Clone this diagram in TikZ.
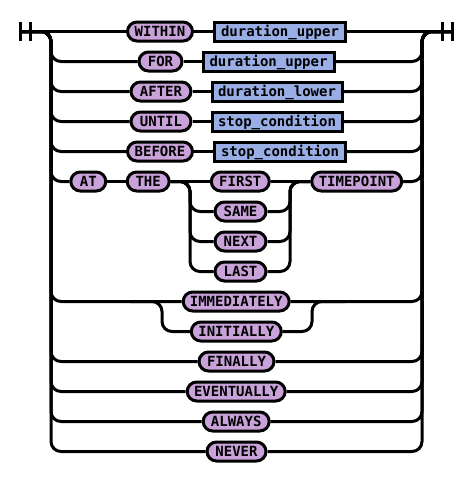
\documentclass[tikz,border=0pt]{standalone}
\usepackage{fontspec}
\newfontfamily\rrfont{DejaVu Sans Mono}
\usetikzlibrary{calc}
\definecolor{termc}{RGB}{200,162,216}
\definecolor{ntc}{RGB}{154,174,230}
\begin{document}
\begin{tikzpicture}[x=1pt,y=-1pt,
  rr/.style={line width=3pt, rounded corners=10pt},
  bar/.style={line width=3pt},
  boxbase/.style={draw, line width=3pt, minimum height=19pt, inner sep=0pt,
    text height=10.2pt, text depth=0pt,
    font=\rrfont\bfseries\fontsize{14}{14}\selectfont},
  term/.style={boxbase, fill=termc, rounded corners=9.5pt},
  nterm/.style={boxbase, fill=ntc}]
\useasboundingbox (0,0) rectangle (473,482);
% coordinates
\coordinate (start) at (20.5,31.5);
\coordinate (stop) at (452.5,31.5);
\coordinate (lrail) at (51,31.5);
\coordinate (rrail) at (422,31.5);
\coordinate (bl) at (190,181.5);
\coordinate (br) at (290,181.5);
\coordinate (cl) at (162,301.5);
\coordinate (cr) at (312,301.5);
\coordinate (cin) at (130,301.5);
\coordinate (cout) at (345,301.5);
% nodes
\node[term, minimum width=65pt] (within) at (160,31.5) {WITHIN};
\node[nterm, minimum width=131pt] (du1) at (280,31.5) {duration\_upper};
\node[term, minimum width=43pt] (for) at (160.5,61.5) {FOR};
\node[nterm, minimum width=131pt] (du2) at (268.5,61.5) {duration\_upper};
\node[term, minimum width=60pt] (after) at (161,91.5) {AFTER};
\node[nterm, minimum width=130pt] (dl) at (277,91.5) {duration\_lower};
\node[term, minimum width=60pt] (until) at (161,121.5) {UNTIL};
\node[nterm, minimum width=130pt] (sc1) at (277,121.5) {stop\_condition};
\node[term, minimum width=65pt] (before) at (160,151.5) {BEFORE};
\node[nterm, minimum width=131pt] (sc2) at (280,151.5) {stop\_condition};
\node[term, minimum width=35pt] (at) at (88.3,181.5) {AT};
\node[term, minimum width=42pt] (the) at (148.2,181.5) {THE};
\node[term, minimum width=58pt] (first) at (240.3,181.5) {FIRST};
\node[term, minimum width=51pt] (same) at (240.5,211.5) {SAME};
\node[term, minimum width=51pt] (next) at (240.5,241.5) {NEXT};
\node[term, minimum width=51pt] (last) at (240.5,271.5) {LAST};
\node[term, minimum width=90pt] (timepoint) at (356.7,181.5) {TIMEPOINT};
\node[term, minimum width=106pt] (imm) at (236.2,301.5) {IMMEDIATELY};
\node[term, minimum width=90pt] (init) at (236.3,331.5) {INITIALLY};
\node[term, minimum width=75pt] (finally) at (236.5,361.5) {FINALLY};
\node[term, minimum width=98pt] (event) at (236.2,391.5) {EVENTUALLY};
\node[term, minimum width=66pt] (always) at (236.2,421.5) {ALWAYS};
\node[term, minimum width=59pt] (never) at (236.5,451.5) {NEVER};
% start / end bars
\draw[bar] (20.5,22) -- (20.5,41);
\draw[bar] (30.5,22) -- (30.5,41);
\draw[bar] (442.5,22) -- (442.5,41);
\draw[bar] (452.5,22) -- (452.5,41);
% row 1
\draw[rr] (start) -- (within.west);
\draw[rr] (within) -- (du1);
\draw[rr] (du1.east) -- (stop);
% two-node rows
\foreach \a/\b in {for/du2, after/dl, until/sc1, before/sc2}{
  \draw[rr] (start) -| (lrail |- \a.west) -- (\a.west);
  \draw[rr] (\a) -- (\b);
  \draw[rr] (\b.east) -| (rrail) -- (stop);
}
% AT THE row
\draw[rr] (start) -| (lrail |- at.west) -- (at.west);
\draw[rr] (at) -- (the);
\draw[rr] (the) -- (first);
\draw[rr] (first) -- (timepoint);
\foreach \n in {same, next, last}{
  \draw[rr] (the.east) -| (bl |- \n.west) -- (\n.west);
  \draw[rr] (\n.east) -| (br) -- (timepoint.west);
}
\draw[rr] (timepoint.east) -| (rrail) -- (stop);
% IMMEDIATELY / INITIALLY
\draw[rr] (start) -| (lrail |- imm.west) -- (imm.west);
\draw[rr] (imm.east) -| (rrail) -- (stop);
\draw[rr] (cin) -| (cl |- init.west) -- (init.west);
\draw[rr] (init.east) -| (cr) -- (cout);
% single rows
\foreach \a in {finally, event, always, never}{
  \draw[rr] (start) -| (lrail |- \a.west) -- (\a.west);
  \draw[rr] (\a.east) -| (rrail) -- (stop);
}
\end{tikzpicture}
\end{document}
